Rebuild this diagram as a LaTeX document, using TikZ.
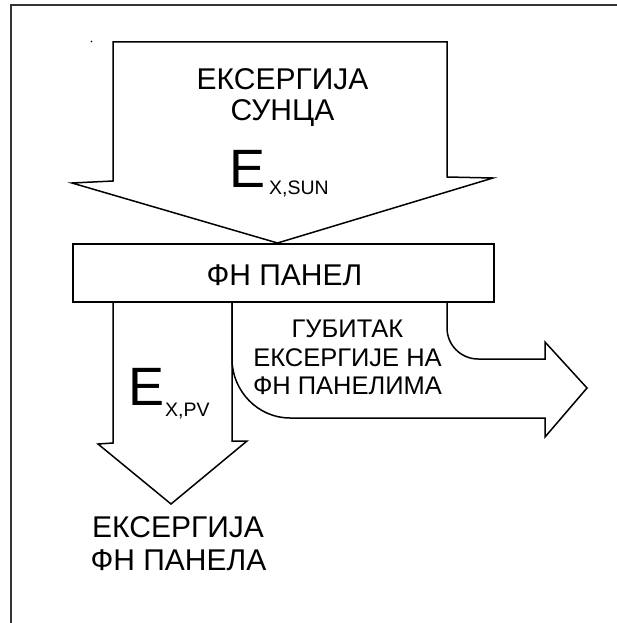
\documentclass[tikz,border=0pt]{standalone}
\usepackage{fontspec}
\setmainfont{Liberation Sans}
\tikzset{
  outline/.style={line width=1.5pt, draw=black, line join=miter},
  framelines/.style={line width=1.4pt, draw=black!80},
  lbl/.style={inner sep=0pt, anchor=base, text=black},
  big/.style={lbl, font=\fontsize{30}{34}\selectfont},
  mid/.style={lbl, font=\fontsize{25.5}{30}\selectfont},
  symE/.style={inner sep=0pt, anchor=base west, font=\fontsize{54}{60}\selectfont},
  symsub/.style={inner sep=0pt, anchor=base west, font=\fontsize{19.5}{22}\selectfont},
}
\begin{document}
\begin{tikzpicture}[x=1pt, y=-1pt]
\useasboundingbox (0,0) rectangle (617,623);

% frame edges
\draw[framelines] (11,623) -- (11,5) -- (617,5);
\fill (91.5,41.5) circle (0.9);

% solar exergy arrow
\draw[outline] (113,42) -- (447,42) -- (447,177) -- (493,178) -- (277.5,243)
  -- (72,183) -- (113,181) -- cycle;

% PV panel
\node[draw, line width=1.5pt, minimum width=421pt, minimum height=58pt, inner sep=0pt]
  (panel) at (283.5,273) {};
\node[big] (paneltxt) at (284.5,285) {ФН ПАНЕЛ};

% PV exergy arrow
\coordinate (pvL) at (113,302);
\coordinate (pvR) at (232,302);
\draw[outline] (pvL) -- (113,443) -- (98,444) -- (171,504) -- (247,441) -- (232,441) -- (pvR);

% exergy loss arrow
\coordinate (lossIn) at (447,302);
\draw[outline] (pvR) -- (232,359) .. controls (232,391) and (258,418) .. (290,418)
  -- (545,418) -- (545,437) -- (587,388) -- (545,342) -- (545,359) -- (478,359)
  .. controls (461,359) and (447,345) .. (447,328) -- (lossIn);

% labels
\node[big] (sun1) at (282.5,90) {ЕКСЕРГИЈА};
\node[big] (sun2) at (282.5,121) {СУНЦА};
\node[symE] (esun) at (229,187) {E};
\node[symsub] (esunsub) at (269,194) {X,SUN};

\node[symE] (epv) at (128,405) {E};
\node[symsub] (epvsub) at (165,416) {X,PV};

\node[mid] (loss1) at (347.5,337) {ГУБИТАК};
\node[mid] (loss2) at (347.5,366) {ЕКСЕРГИЈЕ НА};
\node[mid] (loss3) at (347.5,394) {ФН ПАНЕЛИМА};

\node[big] (pv1) at (178,537) {ЕКСЕРГИЈА};
\node[big] (pv2) at (178.5,570) {ФН ПАНЕЛА};
\end{tikzpicture}
\end{document}
